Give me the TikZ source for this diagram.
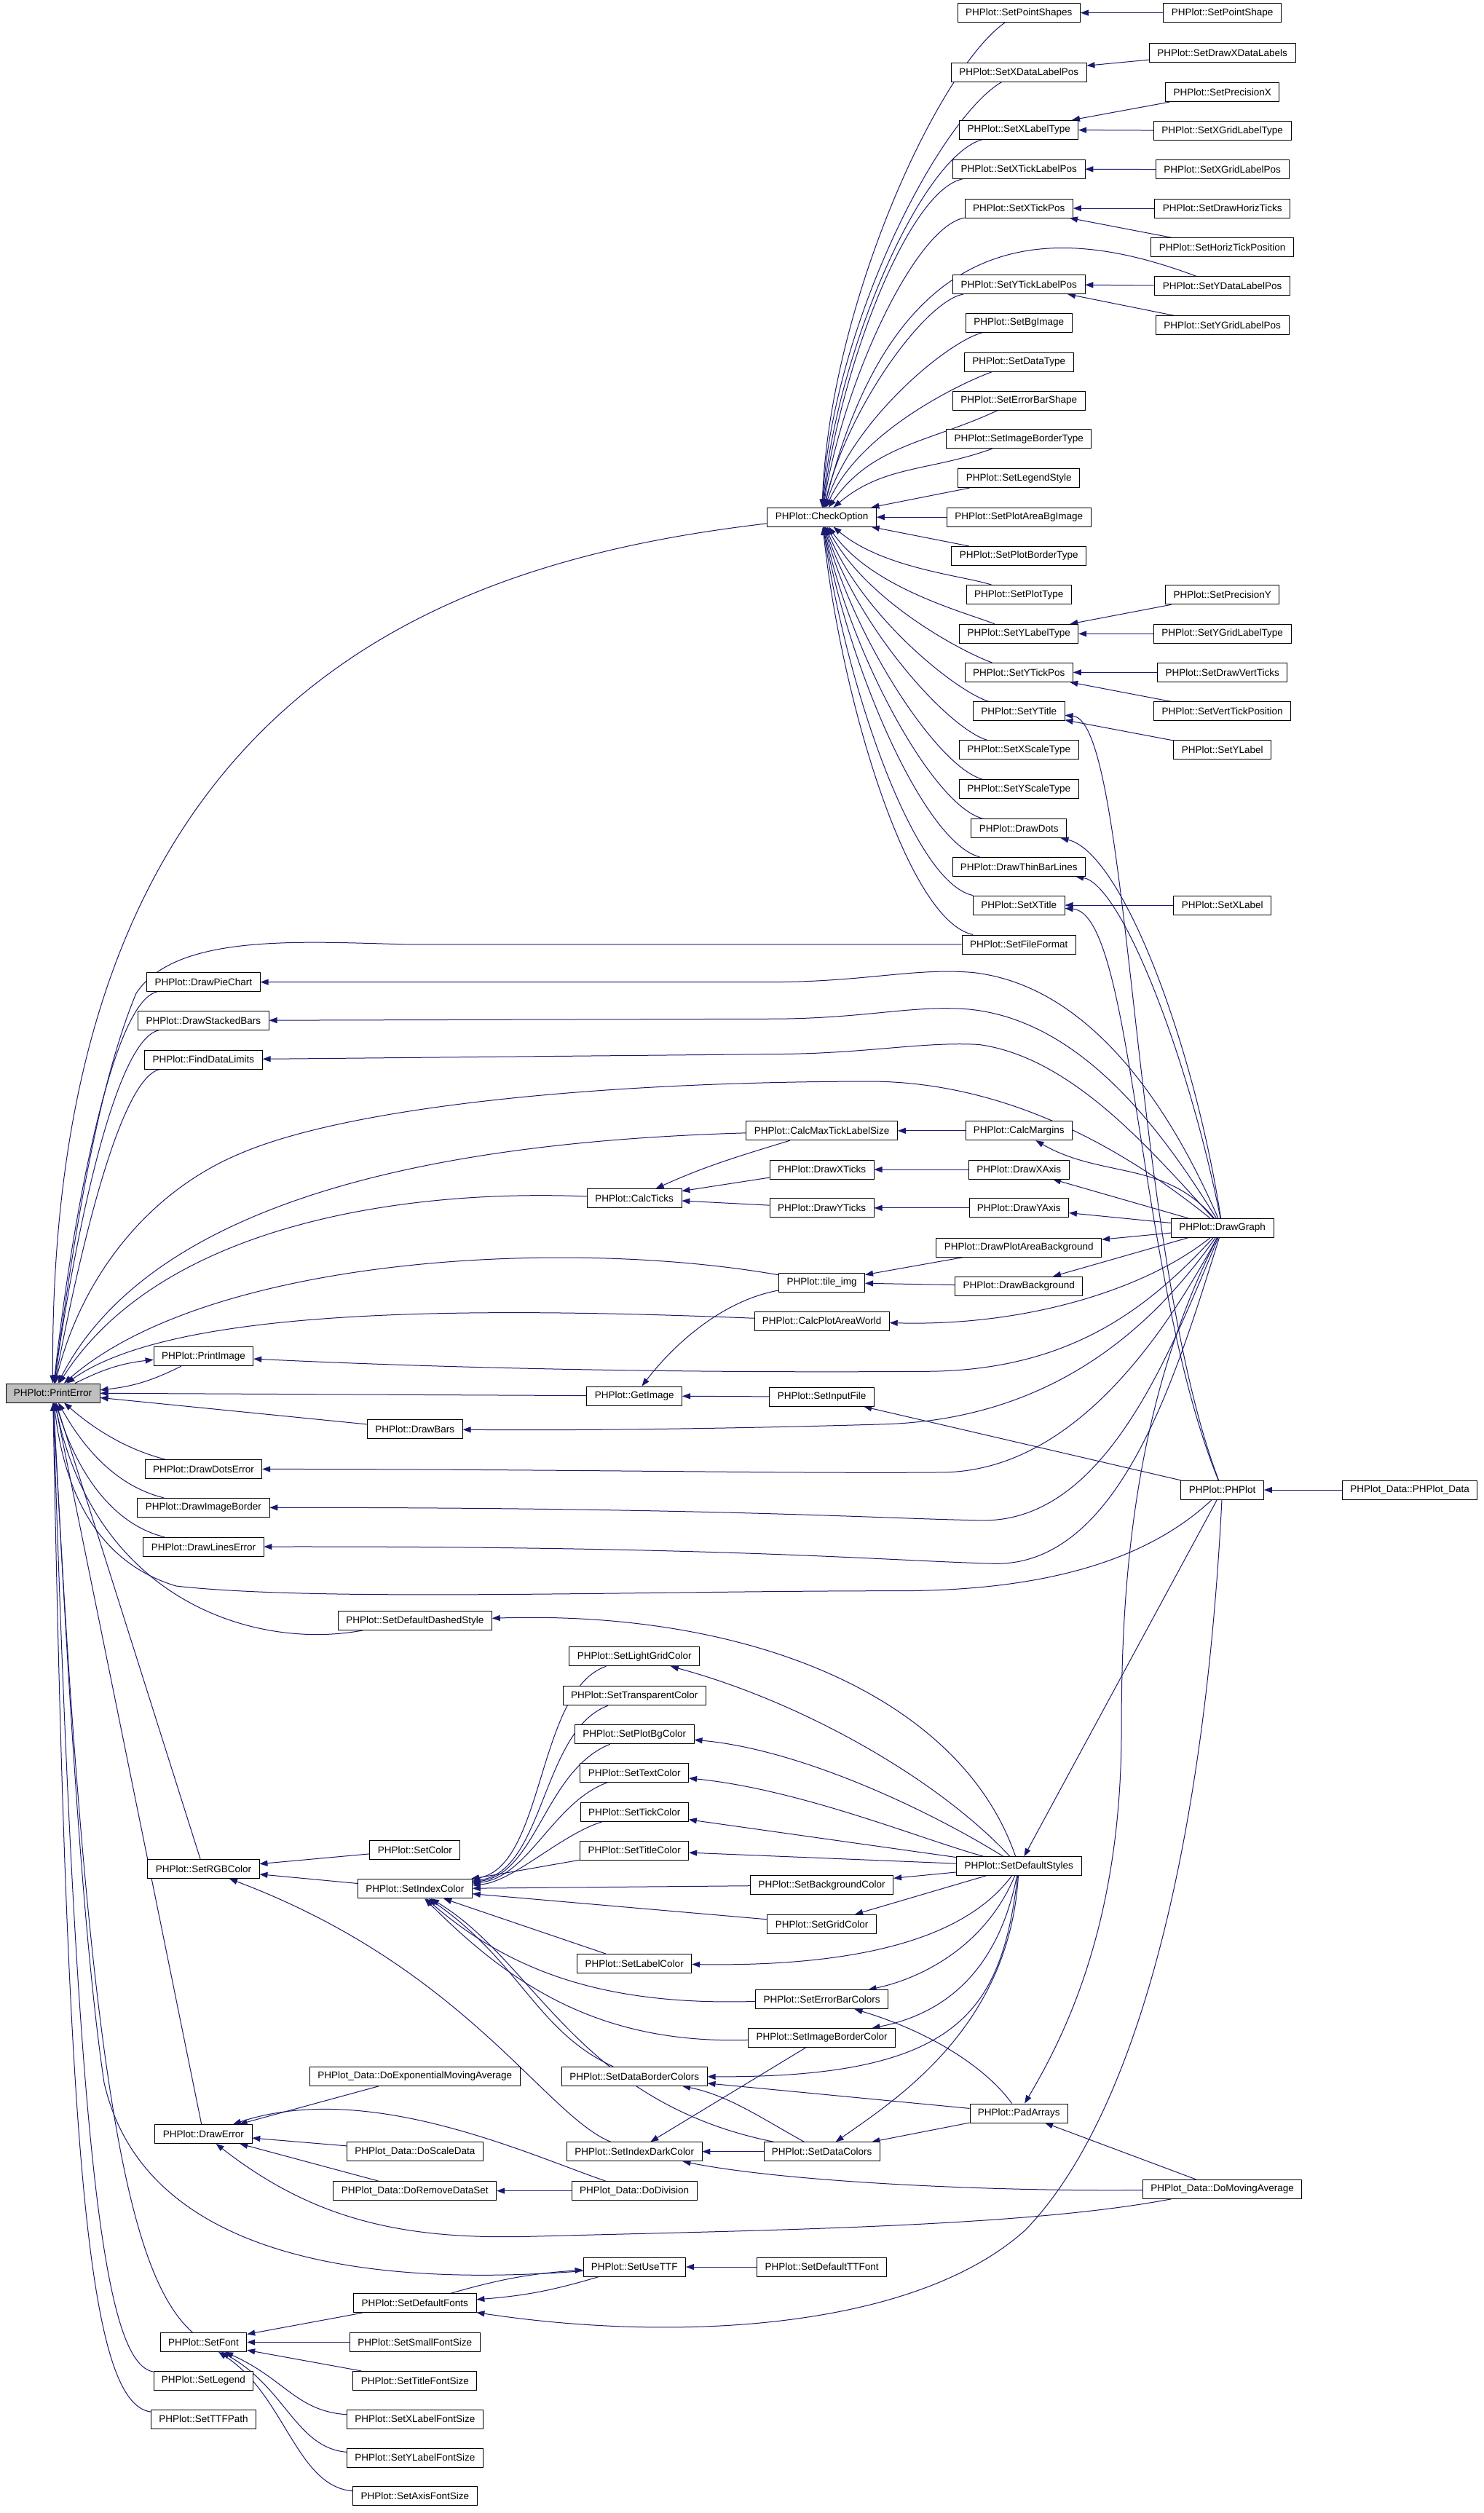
\documentclass[tikz,border=0pt]{standalone}
\usepackage{fontspec}
\setmainfont{Liberation Sans}
\definecolor{edgeblue}{RGB}{25,25,112}
\definecolor{focusgray}{RGB}{191,191,191}
\usetikzlibrary{arrows.meta,backgrounds}

\begin{document}
\begin{tikzpicture}[x=2.2pt, y=-2.2pt,
    font=\fontsize{13.5pt}{16pt}\selectfont,
    fn/.style={draw=black, line width=0.8pt, fill=white, minimum height=26pt,
               inner xsep=11pt, inner ysep=0pt},
    callarrow/.style={edgeblue, line width=1pt, -{Triangle[length=11pt,width=8pt]}}]
  \useasboundingbox (0,0) rectangle (925.9,1568.6);

  % Function boxes, column by column
  \node[fn, fill=focusgray] (PrintError) at (33,869.5) {PHPlot::PrintError};
  \foreach \n/\y in {DrawPieChart/613, DrawStackedBars/637, FindDataLimits/661.4,
      PrintImage/846.7, DrawDotsError/917, DrawImageBorder/941, DrawLinesError/965.5,
      SetRGBColor/1166.6, DrawError/1332, SetFont/1462, SetLegend/1486, SetTTFPath/1510}
    \node[fn] (\n) at (127,\y) {PHPlot::\n};
  \foreach \n/\y in {DrawBars/892, SetDefaultDashedStyle/1011.6, SetColor/1154.6,
      SetIndexColor/1179, SetDefaultFonts/1437.6, SetSmallFontSize/1462,
      SetTitleFontSize/1486, SetXLabelFontSize/1510, SetYLabelFontSize/1534,
      SetAxisFontSize/1558}
    \node[fn] (\n) at (259,\y) {PHPlot::\n};
  \foreach \n/\y in {CalcTicks/748, GetImage/871.3, SetLightGridColor/1034,
      SetTransparentColor/1058.5, SetPlotBgColor/1082.6, SetTextColor/1106.5,
      SetTickColor/1131, SetTitleColor/1155, SetLabelColor/1225.6,
      SetDataBorderColors/1296, SetIndexDarkColor/1343, SetUseTTF/1415}
    \node[fn] (\n) at (396,\y) {PHPlot::\n};
  \foreach \n/\y in {CheckOption/322.8, CalcMaxTickLabelSize/705.8, DrawXTicks/730,
      DrawYTicks/754, CalcPlotAreaWorld/824.5, SetInputFile/871.9,
      SetBackgroundColor/1176.7, SetGridColor/1201, SetErrorBarColors/1248,
      SetImageBorderColor/1272, SetDataColors/1343, SetDefaultTTFont/1415}
    \node[fn] (\n) at (513,\y) {PHPlot::\n};
  \node[fn] (tileimg) at (513,800.5) {PHPlot::tile\_img};
  \foreach \n/\y in {SetPointShapes/8, SetXDataLabelPos/45, SetXLabelType/81,
      SetXTickLabelPos/105.5, SetXTickPos/130, SetYTickLabelPos/177.5, SetBgImage/201.5,
      SetDataType/226, SetErrorBarShape/250, SetImageBorderType/274,
      SetLegendStyle/298.5, SetPlotAreaBgImage/322.8, SetPlotBorderType/347,
      SetPlotType/371.3, SetYLabelType/395.6, SetYTickPos/419.7, SetYTitle/444,
      SetXScaleType/468, SetYScaleType/492.5, DrawDots/517, DrawThinBarLines/541,
      SetXTitle/565, SetFileFormat/589.5, CalcMargins/705.8, DrawXAxis/730,
      DrawYAxis/754, DrawPlotAreaBackground/778.6, DrawBackground/802.8,
      SetDefaultStyles/1164.8, PadArrays/1319}
    \node[fn] (\n) at (636,\y) {PHPlot::\n};
  \foreach \n/\y in {SetPointShape/8, SetDrawXDataLabels/33, SetPrecisionX/57.6,
      SetXGridLabelType/81.6, SetXGridLabelPos/105.8, SetDrawHorizTicks/130,
      SetHorizTickPosition/154.4, SetYDataLabelPos/178.5, SetYGridLabelPos/203,
      SetPrecisionY/371.3, SetYGridLabelType/395.6, SetDrawVertTicks/419.7,
      SetVertTickPosition/444, SetYLabel/468, SetXLabel/565, DrawGraph/766.5,
      PHPlot/930}
    \node[fn] (\n) at (763,\y) {PHPlot::\n};
  \foreach \n/\x/\y in {DoExponentialMovingAverage/259/1296, DoScaleData/259/1343,
      DoRemoveDataSet/259/1367.5, DoDivision/396/1367.5, DoMovingAverage/763/1366.5}
    \node[fn] (\n) at (\x,\y) {PHPlot\_Data::\n};
  \node[fn] (PHPlotData) at (880,930) {PHPlot\_Data::PHPlot\_Data};

  \begin{scope}[on background layer]
    \fill[white] (0,0) rectangle (925.9,1568.6);
    % Straight calls
    \foreach \a/\b in {SetPointShape/SetPointShapes, SetDrawXDataLabels/SetXDataLabelPos,
        SetPrecisionX/SetXLabelType, SetXGridLabelType/SetXLabelType,
        SetXGridLabelPos/SetXTickLabelPos, SetDrawHorizTicks/SetXTickPos,
        SetHorizTickPosition/SetXTickPos, SetYDataLabelPos/SetYTickLabelPos,
        SetYGridLabelPos/SetYTickLabelPos, SetPrecisionY/SetYLabelType,
        SetYGridLabelType/SetYLabelType, SetDrawVertTicks/SetYTickPos,
        SetVertTickPosition/SetYTickPos, SetYLabel/SetYTitle, SetXLabel/SetXTitle,
        SetLegendStyle/CheckOption, SetPlotAreaBgImage/CheckOption,
        SetPlotBorderType/CheckOption, CalcMargins/CalcMaxTickLabelSize,
        DrawXAxis/DrawXTicks, DrawYAxis/DrawYTicks, DrawXTicks/CalcTicks,
        DrawYTicks/CalcTicks, DrawGraph/DrawXAxis, DrawGraph/DrawYAxis,
        DrawGraph/DrawPlotAreaBackground, DrawGraph/DrawBackground,
        DrawPlotAreaBackground/tileimg, DrawBackground/tileimg,
        SetInputFile/GetImage, PHPlot/SetInputFile, PHPlotData/PHPlot,
        GetImage/PrintError, DrawBars/PrintError, SetRGBColor/PrintError,
        DrawError/PrintError, PHPlot/SetDefaultStyles, SetColor/SetRGBColor,
        SetIndexColor/SetRGBColor, SetTitleColor/SetIndexColor,
        SetBackgroundColor/SetIndexColor, SetGridColor/SetIndexColor,
        SetLabelColor/SetIndexColor, SetDefaultStyles/SetTickColor,
        SetDefaultStyles/SetTitleColor, SetDefaultStyles/SetBackgroundColor,
        SetDefaultStyles/SetGridColor, SetImageBorderColor/SetIndexDarkColor,
        SetDataColors/SetIndexDarkColor, PadArrays/SetDataColors,
        PadArrays/SetDataBorderColors, DoMovingAverage/PadArrays,
        DoExponentialMovingAverage/DrawError, DoScaleData/DrawError,
        DoRemoveDataSet/DrawError, DoDivision/DoRemoveDataSet,
        SetDefaultTTFont/SetUseTTF, SetDefaultFonts/SetFont,
        SetSmallFontSize/SetFont, SetTitleFontSize/SetFont}
      \draw[callarrow] (\a) -- (\b);

    % Callers of CheckOption
    \foreach \n/\o/\i in {SetPointShapes/215/88, SetXDataLabelPos/210/87,
        SetXLabelType/195/85, SetXTickLabelPos/190/83, SetXTickPos/190/81,
        SetYTickLabelPos/190/77, SetBgImage/195/72, SetDataType/200/66,
        SetPlotType/160/-40, SetYLabelType/158/-55, SetYTickPos/160/-62,
        SetYTitle/162/-68, SetXScaleType/163/-72, SetYScaleType/165/-75,
        DrawDots/165/-78, DrawThinBarLines/166/-80, SetXTitle/168/-82,
        SetFileFormat/168/-84}
      \draw[callarrow] (\n) to[out=\o, in=\i, out looseness=0.4] (CheckOption);
    \draw[callarrow] (SetErrorBarShape) to[out=205, in=55] (CheckOption);
    \draw[callarrow] (SetImageBorderType) to[out=200, in=40] (CheckOption);
    \draw[callarrow] (SetYDataLabelPos) .. controls (660,140) and (560,135) .. (CheckOption);

    % DrawGraph fan
    \draw[callarrow] (DrawGraph) .. controls (745,650) and (700,532) .. (DrawDots);
    \draw[callarrow] (DrawGraph) .. controls (742,660) and (700,552) .. (DrawThinBarLines);
    \draw[callarrow] (DrawGraph) .. controls (730,690) and (680,615) .. (607,607)
      .. controls (570,604) and (540,613) .. (480,613) -- (DrawPieChart);
    \draw[callarrow] (DrawGraph) .. controls (725,705) and (675,637) .. (605,630)
      .. controls (570,627) and (540,636) .. (480,636) -- (DrawStackedBars);
    \draw[callarrow] (DrawGraph) .. controls (720,720) and (670,660) .. (611,652)
      .. controls (575,650) and (540,658) .. (480,658) -- (FindDataLimits);
    \draw[callarrow] (DrawGraph) .. controls (715,728) and (640,676) .. (545,675)
      .. controls (380,675) and (220,690) .. (150,720)
      .. controls (90,745) and (50,800) .. (PrintError);
    \draw[callarrow] (DrawGraph) to[out=130, in=-30] (CalcMargins);
    \draw[callarrow] (DrawGraph) .. controls (715,805) and (640,828) .. (CalcPlotAreaWorld);
    \draw[callarrow] (DrawGraph) .. controls (718,815) and (670,855) .. (580,856)
      .. controls (450,857) and (300,855) .. (PrintImage);
    \draw[callarrow] (DrawGraph) .. controls (722,825) and (660,886) .. (551,889)
      .. controls (450,892) and (350,893) .. (DrawBars);
    \draw[callarrow] (DrawGraph) .. controls (726,835) and (670,917) .. (590,919)
      .. controls (500,920) and (350,917) .. (DrawDotsError);
    \draw[callarrow] (DrawGraph) .. controls (730,845) and (690,950) .. (613,949)
      .. controls (550,948) and (450,941) .. (DrawImageBorder);
    \draw[callarrow] (DrawGraph) .. controls (735,855) and (700,978) .. (620,976)
      .. controls (550,974) and (450,965) .. (DrawLinesError);
    \draw[callarrow] (DrawGraph) .. controls (705,880) and (700,1000) .. (700,1080)
      .. controls (700,1200) and (665,1270) .. (PadArrays);

    % PHPlot constructor
    \draw[callarrow] (PHPlot) .. controls (706,780) and (706,450) .. (SetYTitle);
    \draw[callarrow] (PHPlot) .. controls (710,800) and (708,570) .. (SetXTitle);
    \draw[callarrow] (PHPlot) .. controls (715,975) and (650,993) .. (560,993)
      .. controls (400,993) and (200,1000) .. (110,990)
      .. controls (60,975) and (40,930) .. (PrintError);
    \draw[callarrow] (PHPlot) .. controls (752,1150) and (710,1320) .. (640,1392)
      .. controls (570,1455) and (420,1462) .. (SetDefaultFonts);

    % Into PrintError
    \draw[callarrow] (CheckOption) .. controls (280,350) and (30,430) .. (PrintError);
    \draw[callarrow] (SetFileFormat) -- (255,589.5) .. controls (190,588) and (110,582) .. (85,620)
      .. controls (60,680) and (45,780) .. (PrintError);
    \draw[callarrow] (DrawPieChart) .. controls (70,625) and (45,760) .. (PrintError);
    \draw[callarrow] (DrawStackedBars) .. controls (72,649) and (47,770) .. (PrintError);
    \draw[callarrow] (FindDataLimits) .. controls (75,673) and (50,780) .. (PrintError);
    \draw[callarrow] (CalcMaxTickLabelSize) .. controls (300,712) and (100,740) .. (PrintError);
    \draw[callarrow] (CalcTicks) .. controls (250,742) and (100,765) .. (PrintError);
    \draw[callarrow] (tileimg) .. controls (350,772) and (130,785) .. (PrintError);
    \draw[callarrow] (CalcPlotAreaWorld) .. controls (300,816) and (110,815) .. (PrintError);
    \draw[callarrow] (PrintError) to[bend left=10] (PrintImage);
    \draw[callarrow] (PrintImage) to[bend left=10] (PrintError);
    \draw[callarrow] (DrawDotsError) .. controls (80,905) and (60,893) .. (PrintError);
    \draw[callarrow] (DrawImageBorder) .. controls (70,927) and (50,900) .. (PrintError);
    \draw[callarrow] (DrawLinesError) .. controls (65,950) and (45,910) .. (PrintError);
    \draw[callarrow] (SetDefaultDashedStyle) .. controls (160,1030) and (60,1000) .. (PrintError);
    \draw[callarrow] (SetUseTTF) .. controls (230,1428) and (90,1410) .. (65,1300)
      .. controls (50,1200) and (40,1000) .. (PrintError);
    \draw[callarrow] (SetFont) .. controls (80,1420) and (55,1300) .. (PrintError);
    \draw[callarrow] (SetLegend) .. controls (65,1475) and (48,1350) .. (PrintError);
    \draw[callarrow] (SetTTFPath) .. controls (55,1500) and (42,1350) .. (PrintError);

    % Ticks and images
    \draw[callarrow] (tileimg) .. controls (450,812) and (420,840) .. (GetImage);
    \draw[callarrow] (CalcMaxTickLabelSize) .. controls (460,722) and (440,728) .. (CalcTicks);

    % SetDefaultStyles fan
    \draw[callarrow] (SetDefaultStyles) .. controls (600,1060) and (470,1005) .. (SetDefaultDashedStyle);
    \draw[callarrow] (SetDefaultStyles) .. controls (585,1110) and (500,1062) .. (SetLightGridColor);
    \draw[callarrow] (SetDefaultStyles) .. controls (580,1130) and (500,1092) .. (SetPlotBgColor);
    \draw[callarrow] (SetDefaultStyles) .. controls (575,1148) and (500,1117) .. (SetTextColor);
    \draw[callarrow] (SetDefaultStyles) .. controls (610,1200) and (560,1228) .. (SetLabelColor);
    \draw[callarrow] (SetDefaultStyles) .. controls (615,1215) and (575,1235) .. (SetErrorBarColors);
    \draw[callarrow] (SetDefaultStyles) .. controls (622,1235) and (585,1258) .. (SetImageBorderColor);
    \draw[callarrow] (SetDefaultStyles) .. controls (625,1255) and (600,1297) .. (SetDataBorderColors);
    \draw[callarrow] (SetDefaultStyles) .. controls (630,1265) and (560,1310) .. (SetDataColors);

    % SetIndexColor fan
    \draw[callarrow] (SetLightGridColor) .. controls (335,1055) and (340,1165) .. (SetIndexColor);
    \draw[callarrow] (SetTransparentColor) .. controls (338,1080) and (340,1168) .. (SetIndexColor);
    \draw[callarrow] (SetPlotBgColor) .. controls (340,1105) and (335,1170) .. (SetIndexColor);
    \draw[callarrow] (SetTextColor) .. controls (345,1125) and (330,1172) .. (SetIndexColor);
    \draw[callarrow] (SetTickColor) .. controls (350,1145) and (320,1175) .. (SetIndexColor);
    \draw[callarrow] (SetErrorBarColors) .. controls (380,1252) and (320,1232) .. (SetIndexColor);
    \draw[callarrow] (SetImageBorderColor) .. controls (375,1276) and (320,1240) .. (SetIndexColor);
    \draw[callarrow] (SetDataBorderColors) .. controls (335,1268) and (325,1225) .. (SetIndexColor);
    \draw[callarrow] (SetDataColors) .. controls (360,1312) and (335,1225) .. (SetIndexColor);
    \draw[callarrow] (SetIndexDarkColor) .. controls (340,1320) and (290,1228) .. (SetRGBColor);

    % Data helpers
    \draw[callarrow] (DoDivision) .. controls (330,1345) and (230,1298) .. (DrawError);
    \draw[callarrow] (DoMovingAverage) .. controls (640,1390) and (480,1392) .. (330,1396)
      .. controls (250,1398) and (195,1385) .. (DrawError);
    \draw[callarrow] (DoMovingAverage) .. controls (620,1368) and (490,1362) .. (SetIndexDarkColor);
    \draw[callarrow] (SetDataColors) .. controls (475,1322) and (455,1308) .. (SetDataBorderColors);
    \draw[callarrow] (PadArrays) .. controls (615,1290) and (580,1268) .. (SetErrorBarColors);

    % Fonts
    \draw[callarrow] (SetDefaultFonts) to[bend left=6] (SetUseTTF);
    \draw[callarrow] (SetUseTTF) to[bend left=6] (SetDefaultFonts);
    \draw[callarrow] (SetXLabelFontSize) .. controls (185,1505) and (178,1485) .. (SetFont);
    \draw[callarrow] (SetYLabelFontSize) .. controls (185,1528) and (178,1490) .. (SetFont);
    \draw[callarrow] (SetAxisFontSize) .. controls (185,1552) and (178,1495) .. (SetFont);
  \end{scope}
\end{tikzpicture}
\end{document}
